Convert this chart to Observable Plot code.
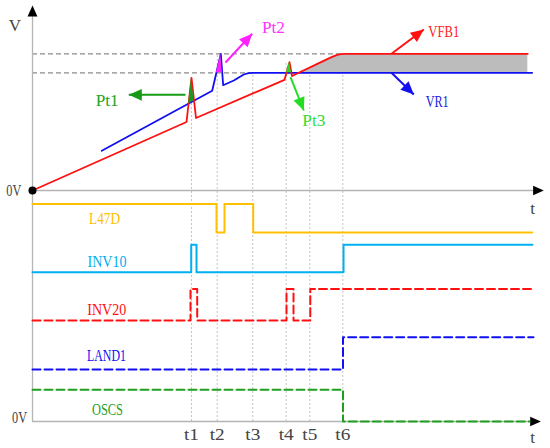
<!DOCTYPE html>
<html><head><meta charset="utf-8">
<script src="https://cdn.jsdelivr.net/npm/d3@7"></script>
<script src="https://cdn.jsdelivr.net/npm/@observablehq/plot@0.6"></script>
<style>html,body{margin:0;padding:0;background:#fff;}</style>
</head><body><div id="chart"></div>
<script>
// ---- time markers ----
const tickLabels = ["t1", "t2", "t3", "t4", "t5", "t6"];
const tickTimes = [159, 184.7, 220.3, 253.7, 277.3, 310.3];
const tickTops = [343.7, 367.7, 348.7, 359.3, 348.7, 367.7];

// ---- analog panel ----
const zeroLevel = 231;
const vfb1X = [0, 154, 159, 163.5, 252, 257, 259.5, 288, 298, 304, 308, 313, 495.3];
const vfb1Y = [231, 299.5, 343.7, 303.5, 341.7, 359.3, 345.5, 359.1, 363.9, 366.4, 367.4, 367.7, 367.7];
const vr1X = [69.3, 179.7, 188.3, 190.7, 201.3, 211.3, 216, 220.3, 499.7];
const vr1Y = [270.7, 330.7, 367.7, 336.3, 341, 347, 348.4, 348.7, 348.7];
const refLevels = [367.7, 348.7];
const refEnds = [313, 220.3];

// shaded region between VFB1 and VR1
const gapX = [266.2, 288, 298, 304, 308, 313, 495.3];
const gapTop = [348.7, 359.1, 363.9, 366.4, 367.4, 367.7, 367.7];
const gapBase = 348.7;
// peak regions
const pt1X = [156.07, 159, 161.56];
const pt1Base = [317.83, 319.45, 320.84];
const pt1Top = [317.83, 343.7, 320.84];
const pt2X = [183.88, 188.3, 189.75];
const pt2Top = [348.7, 367.7, 348.7];
const pt3X = [253.99, 257, 258.92];
const pt3Top = [348.7, 359.3, 348.7];

// ---- digital signals ----
const signalNames = ["L47D", "INV10", "INV20", "LAND1", "OSCS"];
const signalColors = ["#ffc000", "#00b0f0", "#ff1010", "#1010f0", "#1ea01e"];
const signalDashed = [false, false, true, true, true];
const laneLow = [189, 149.3, 101, 52, 0];
const laneHigh = [217.5, 176.7, 132.5, 84.3, 31.7];
const l47dT = [0, 184, 192, 220.7, 499.7];   const l47dS = [1, 0, 1, 0, 0];
const inv10T = [0, 158.7, 164, 311, 500];    const inv10S = [0, 1, 0, 1, 1];
const inv20T = [0, 158, 164.7, 254, 261, 277.8, 500]; const inv20S = [0, 1, 0, 1, 0, 1, 1];
const land1T = [0, 310.5, 501];              const land1S = [0, 1, 1];
const oscsT = [0, 310.5, 497];               const oscsS = [1, 0, 0];
const signalTimes = [l47dT, inv10T, inv20T, land1T, oscsT];
const signalStates = [l47dS, inv10S, inv20S, land1S, oscsS];
const signalLabelX = [72, 74.5, 74.3, 74, 75];
const signalLabelY = [202.7, 160, 112, 66, 11.7];

// ---- annotations ----
const annNames = ["Pt1", "Pt2", "Pt3", "VFB1", "VR1"];
const annColors = ["#169a16", "#ff22ff", "#22dd22", "#ff1010", "#1010f0"];
const annTextColors = ["#22a522", "#ff33ff", "#33dd33", "#ff2020", "#2020e0"];
const annFrom = [[153, 326.7], [193, 359], [258, 344.3], [359, 367.7], [359, 348.7]];
const annTo = [[96.3, 326.7], [219.7, 387.7], [271.3, 311], [391.3, 392], [381.3, 327]];
const annLabel = [[74.7, 321], [241, 394.3], [281.3, 301], [411.3, 390.3], [404.7, 320.3]];

// ---- scales ----
const X = {domain: [-32, 518], range: [0, 550]};
const Y = {domain: [0, 420], range: [421, 1]};
const xs = d3.scaleLinear(X.domain, X.range);
const ys = d3.scaleLinear(Y.domain, Y.range);

const head = {
  draw(ctx, size) {
    const L = Math.sqrt(size / Math.PI);
    ctx.moveTo(0, 0);
    ctx.lineTo(-0.45 * L, L);
    ctx.lineTo(0.45 * L, L);
    ctx.closePath();
  }
};
function arrowMarks(x1, y1, x2, y2, color, len, sw) {
  const ang = Math.atan2(xs(x2) - xs(x1), -(ys(y2) - ys(y1))) * 180 / Math.PI;
  const marks = [];
  if (sw > 0) marks.push(Plot.link([{x1, y1, x2, y2}], {x1: "x1", y1: "y1", x2: "x2", y2: "y2", stroke: color, strokeWidth: sw}));
  marks.push(Plot.dot([{x: x2, y: y2}], {x: "x", y: "y", r: len, symbol: head, rotate: ang, fill: color, stroke: "none"}));
  return marks;
}

const ticks = tickTimes.map((t, i) => ({t, top: tickTops[i], label: tickLabels[i]}));
const refs = refLevels.map((v, i) => ({v, end: refEnds[i]}));
const vfb1 = vfb1X.map((x, i) => ({x, y: vfb1Y[i]}));
const vr1 = vr1X.map((x, i) => ({x, y: vr1Y[i]}));
const gap = gapX.map((x, i) => ({x, top: gapTop[i], base: gapBase}));
const pt1 = pt1X.map((x, i) => ({x, base: pt1Base[i], top: pt1Top[i]}));
const pt2 = pt2X.map((x, i) => ({x, base: gapBase, top: pt2Top[i]}));
const pt3 = pt3X.map((x, i) => ({x, base: gapBase, top: pt3Top[i]}));

const signalMarks = signalNames.map((name, k) => {
  const rows = signalTimes[k].map((t, i) => ({t, y: signalStates[k][i] ? laneHigh[k] : laneLow[k]}));
  return Plot.line(rows, {x: "t", y: "y", curve: "step-after", stroke: signalColors[k], strokeWidth: 2,
    strokeDasharray: signalDashed[k] ? "8,4" : null});
});
const signalLabels = signalNames.map((name, k) => ({name, x: signalLabelX[k], y: signalLabelY[k], color: signalColors[k]}));

const axisGray = "#b4b4b4";
const textGray = "#444";
const fs = 17;

const plot = Plot.plot({
  width: 550, height: 448,
  marginTop: 0, marginBottom: 0, marginLeft: 0, marginRight: 0,
  x: {...X, axis: null},
  y: {...Y, axis: null},
  style: {fontFamily: "'Liberation Serif', serif", fontSize: "17px", background: "white"},
  marks: [
    // time marker lines
    Plot.ruleX(ticks, {x: "t", y1: 0, y2: "top", stroke: "#c4c4c4", strokeWidth: 1, strokeDasharray: "2,2"}),
    // reference dashed levels
    Plot.ruleY(refs, {y: "v", x1: 0, x2: "end", stroke: "#8a8a8a", strokeWidth: 1.3, strokeDasharray: "5,3"}),
    // axes
    Plot.ruleX([0], {y1: 0, y2: 406, stroke: axisGray, strokeWidth: 1.3}),
    Plot.ruleY([zeroLevel], {x1: 0, x2: 502, stroke: axisGray, strokeWidth: 1.3}),
    Plot.ruleY([0], {x1: 0, x2: 499, stroke: axisGray, strokeWidth: 1.3}),
    ...arrowMarks(0, 400, 0, 416, "#000", 11, 0),
    ...arrowMarks(490, zeroLevel, 511.3, zeroLevel, "#000", 10.7, 0),
    ...arrowMarks(490, 0, 508.4, 0, "#000", 10.7, 0),
    // shaded gap
    Plot.areaY(gap, {x: "x", y1: "base", y2: "top", fill: "#bcbcbc"}),
    // analog curves
    Plot.line(vr1, {x: "x", y: "y", stroke: "#1010f0", strokeWidth: 1.8}),
    Plot.line(vfb1, {x: "x", y: "y", stroke: "#ff1010", strokeWidth: 1.8}),
    // peak fills
    Plot.areaY(pt1, {x: "x", y1: "base", y2: "top", fill: "#1e961e"}),
    Plot.areaY(pt2, {x: "x", y1: "base", y2: "top", fill: "#ff22ff"}),
    Plot.areaY(pt3, {x: "x", y1: "base", y2: "top", fill: "#22dd22"}),
    // digital signals
    ...signalMarks,
    // annotation arrows
    ...annNames.flatMap((n, i) => arrowMarks(annFrom[i][0], annFrom[i][1], annTo[i][0], annTo[i][1], annColors[i], 13, 2)),
    // origin dot
    Plot.dot([{x: 0, y: zeroLevel}], {x: "x", y: "y", r: 4, fill: "#000"}),
    // texts
    Plot.text(annNames.map((n, i) => ({n, x: annLabel[i][0], y: annLabel[i][1], c: annTextColors[i]})),
      {x: "x", y: "y", text: "n", fill: "c", fontSize: fs}),
    Plot.text(signalLabels, {x: "x", y: "y", text: "name", fill: "color", fontSize: fs}),
    Plot.text(ticks, {x: "t", y: -13, text: "label", fill: textGray, fontSize: fs}),
    Plot.text([{s: "V", x: -17.5, y: 396}, {s: "0V", x: -18.7, y: 230.7}, {s: "0V", x: -13, y: 4},
               {s: "t", x: 500, y: 213}, {s: "t", x: 500, y: -15.7}],
      {x: "x", y: "y", text: "s", fill: textGray, fontSize: fs})
  ]
});

// mimic the half-width glyphs of the original font
plot.querySelectorAll("text").forEach(t => {
  const n = t.textContent.length;
  if (n > 1) {
    t.setAttribute("textLength", 8 * n - 1);
    t.setAttribute("lengthAdjust", "spacingAndGlyphs");
  }
});
document.getElementById("chart").appendChild(plot);
</script>
</body></html>
